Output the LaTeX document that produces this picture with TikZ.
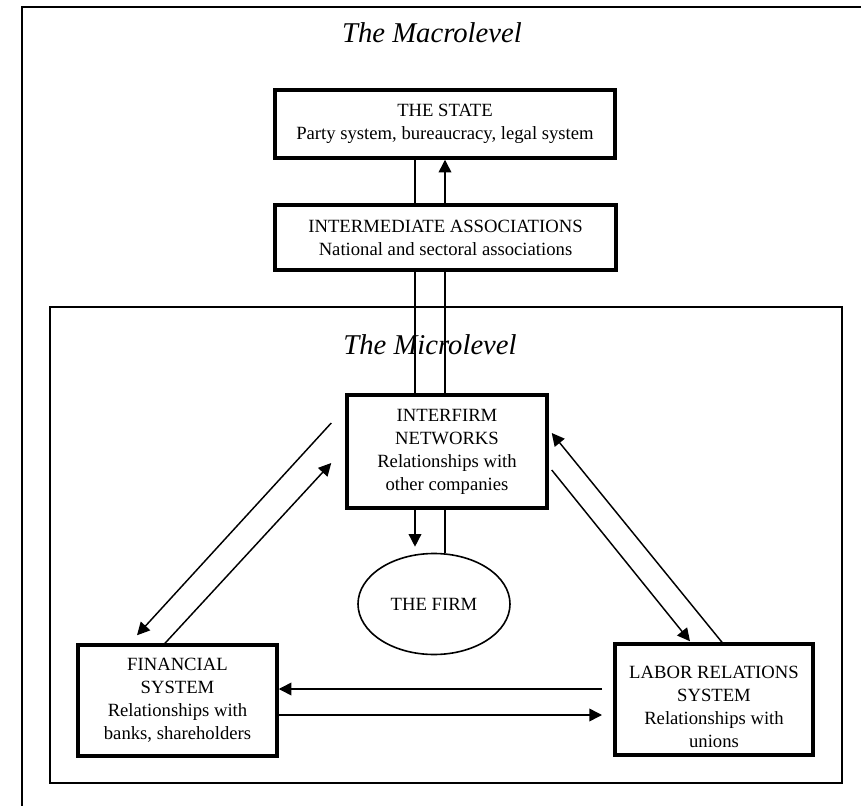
\documentclass[tikz,border=0pt]{standalone}
\usepackage{fontspec}
\setmainfont{Liberation Serif}
\usetikzlibrary{arrows.meta,shapes.geometric,calc}
\newcommand\bxfont{\fontsize{14pt}{17.25pt}\selectfont}
\newcommand\ttlfont{\fontsize{21.5pt}{25pt}\selectfont\itshape}
\begin{document}
\begin{tikzpicture}[x=0.75pt,y=-0.75pt,
  box/.style={draw, line width=2.6pt, rectangle, align=center, font=\bxfont, inner sep=0pt},
  conn/.style={line width=1.1pt},
  arr/.style={line width=1.1pt, -{Triangle[length=9.5pt,width=9.5pt]}},
  ttl/.style={font=\ttlfont}
]
\useasboundingbox (0,0) rectangle (861,806);
% frames
\draw[line width=2pt] (22,806) -- (22,7) -- (861,7);
\draw[line width=1.3pt] (50,307) rectangle (842,783);
% titles
\node[ttl] (macro) at (432,33) {The Macrolevel};
\node[ttl] (micro) at (430,345) {The Microlevel};
% nodes
\node[box, minimum width=255pt, minimum height=51pt] (state) at (445,124) {THE STATE\\Party system, bureaucracy, legal system};
\node[box, minimum width=255.75pt, minimum height=48.75pt] (inter) at (445.5,237.5) {INTERMEDIATE ASSOCIATIONS\\National and sectoral associations};
\node[box, minimum width=150pt, minimum height=84.75pt] (ifn) at (447,451.5) {INTERFIRM\\NETWORKS\\Relationships with\\other companies};
\node[draw, ellipse, line width=1.2pt, minimum width=114pt, minimum height=75.75pt, font=\bxfont, inner sep=0pt] (firm) at (434,604) {THE FIRM};
\node[box, minimum width=149.25pt, minimum height=83.25pt] (fin) at (177.5,700.5) {FINANCIAL\\SYSTEM\\Relationships with\\banks, shareholders};
\node[box, minimum width=148.5pt, minimum height=83.25pt] (lab) at (714,699.5) {};
\node[font=\bxfont, align=center, inner sep=0pt] (labt) at (714,706.5) {LABOR RELATIONS\\SYSTEM\\Relationships with\\unions};
% vertical connectors
\coordinate (L) at (415,0);
\coordinate (R) at (445,0);
\draw[conn] (state.south -| L) -- (inter.north -| L);
\draw[conn] (inter.south -| L) -- (ifn.north -| L);
\draw[arr, shorten >=4.5pt] (ifn.south -| L) -- (firm.north -| L);
\draw[conn] (firm.north -| R) -- (ifn.south -| R);
\draw[conn] (ifn.north -| R) -- (inter.south -| R);
\draw[arr] (inter.north -| R) -- (state.south -| R);
% diagonals
\draw[arr] ($(ifn.west)+(-14,-28.5)$) -- ($(fin.north)+(-40.5,-8)$);
\draw[arr] ($(fin.north)+(-12.5,0)$) -- ($(ifn.west)+(-14,11.5)$);
\draw[arr] ($(lab.north)+(8,0)$) -- ($(ifn.east)+(3,-18.5)$);
\draw[arr] ($(ifn.east)+(3,18.5)$) -- ($(lab.north)+(-24,-1)$);
% horizontals
\coordinate (h1) at (602,689);
\coordinate (h2) at (602,715);
\draw[arr] (h1) -- (fin.east |- h1);
\draw[arr] (fin.east |- h2) -- (h2);
\end{tikzpicture}
\end{document}
